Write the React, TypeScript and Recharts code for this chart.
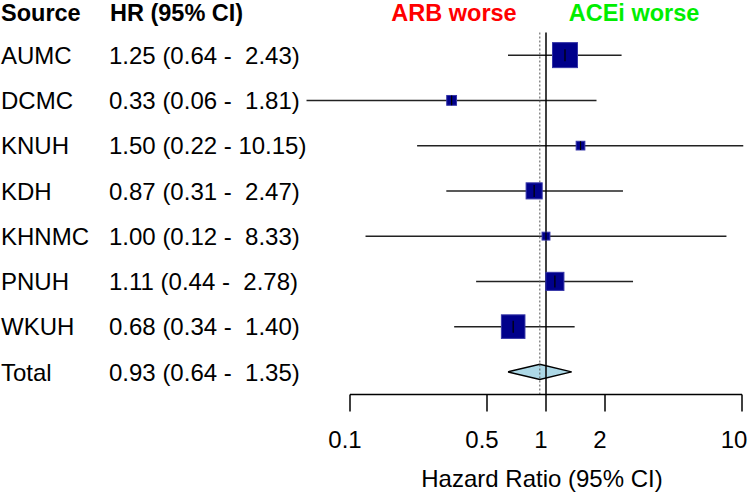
import {
  ComposedChart,
  XAxis,
  YAxis,
  Scatter,
  Area,
  ReferenceLine,
  Label,
} from 'recharts'

// study rows, last one is the pooled estimate
const sources = ['AUMC', 'DCMC', 'KNUH', 'KDH', 'KHNMC', 'PNUH', 'WKUH', 'Total']
const hr = [1.25, 0.33, 1.5, 0.87, 1.0, 1.11, 0.68, 0.93]
const lower = [0.64, 0.06, 0.22, 0.31, 0.12, 0.44, 0.34, 0.64]
const upper = [2.43, 1.81, 10.15, 2.47, 8.33, 2.78, 1.4, 1.35]
const xTicks = [0.1, 0.5, 1, 2, 10]

const FONT = '"Liberation Sans", Arial, sans-serif'
const MAX_BOX = 25
const DIAMOND_HALF = 0.17
const TOTAL = sources.length - 1

const fmt = (i: number) =>
  `${hr[i].toFixed(2)} (${lower[i].toFixed(2)} - ${upper[i].toFixed(2).padStart(5, ' ')})`

// box size ~ precision (1 / log-CI width), largest box = MAX_BOX
const precision = sources.slice(0, TOTAL).map((_, i) => 1 / Math.log(upper[i] / lower[i]))
const maxPrec = Math.max(...precision)

const studies = sources.slice(0, TOTAL).map((name, i) => ({
  name,
  x: hr[i],
  y: i,
  size: (precision[i] / maxPrec) * MAX_BOX,
}))

const diamond = [
  { x: lower[TOTAL], band: [TOTAL, TOTAL] },
  { x: hr[TOTAL], band: [TOTAL - DIAMOND_HALF, TOTAL + DIAMOND_HALF] },
  { x: upper[TOTAL], band: [TOTAL, TOTAL] },
]

const StudyBox = (props: any) => {
  const { cx, cy, payload } = props
  const s = payload.size
  const t = Math.min(12, s)
  return (
    <g>
      <rect x={cx - s / 2} y={cy - s / 2} width={s} height={s} fill="#00008B" stroke="#3535a8" strokeWidth={1} />
      <line x1={cx} x2={cx} y1={cy - t / 2} y2={cy + t / 2} stroke="#000" strokeWidth={1.2} />
    </g>
  )
}

const RowTick = (props: any) => {
  const { y, payload } = props
  const i = payload.value as number
  return (
    <g>
      <text x={1} y={y} dy="0.36em" fontSize={24} fill="#000" fontFamily={FONT}>
        {sources[i]}
      </text>
      <text x={109} y={y} dy="0.36em" fontSize={24} fill="#000" fontFamily={FONT} style={{ whiteSpace: 'pre' }}>
        {fmt(i)}
      </text>
    </g>
  )
}

const header: React.CSSProperties = {
  position: 'absolute',
  top: 0,
  fontSize: 23.5,
  fontWeight: 'bold',
  lineHeight: 'normal',
  whiteSpace: 'nowrap',
}

export default function App() {
  return (
    <div style={{ position: 'absolute', left: 0, top: 0, width: 751, height: 503, fontFamily: FONT, background: '#fff' }}>
      <div style={{ ...header, left: 1 }}>Source</div>
      <div style={{ ...header, left: 110 }}>HR (95% CI)</div>
      <div style={{ ...header, left: 454, transform: 'translateX(-50%)', color: '#ff0000' }}>ARB worse</div>
      <div style={{ ...header, left: 634, transform: 'translateX(-50%)', color: '#00ee00' }}>ACEi worse</div>

      <ComposedChart
        width={751}
        height={503}
        data={diamond}
        margin={{ top: 32.5, right: 9, bottom: 0, left: 0 }}
      >
        <XAxis
          dataKey="x"
          type="number"
          scale="log"
          domain={[0.1, 10]}
          allowDataOverflow
          ticks={xTicks}
          tickFormatter={(v: number) => String(v)}
          height={108.5}
          tickSize={17}
          tickMargin={19.4}
          stroke="#000"
          strokeWidth={1.5}
          tick={{ fill: '#000', fontSize: 24, fontFamily: FONT, dx: -5 }}
        >
          <Label
            value="Hazard Ratio (95% CI)"
            position="insideBottom"
            offset={16.3}
            dx={-4}
            fill="#000"
            fontSize={24}
            fontFamily={FONT}
          />
        </XAxis>
        <YAxis
          dataKey="y"
          type="number"
          domain={[-0.5, 7.5]}
          ticks={sources.map((_, i) => i)}
          reversed
          allowDataOverflow
          width={350}
          axisLine={false}
          tickLine={false}
          tick={<RowTick />}
        />

        {/* confidence intervals */}
        {studies.map((s, i) => (
          <ReferenceLine
            key={s.name}
            segment={[
              { x: lower[i], y: i },
              { x: upper[i], y: i },
            ]}
            stroke="#222"
            strokeWidth={1.5}
            ifOverflow="visible"
          />
        ))}

        {/* no effect + pooled estimate */}
        <ReferenceLine x={1} stroke="#000" strokeWidth={1.5} />
        <ReferenceLine x={hr[TOTAL]} stroke="#555" strokeWidth={1} strokeDasharray="2 2" />

        <Area
          type="linear"
          dataKey="band"
          fill="#ADD8E6"
          fillOpacity={1}
          stroke="#000"
          strokeWidth={1.5}
          dot={false}
          activeDot={false}
          isAnimationActive={false}
        />
        <Scatter data={studies} shape={<StudyBox />} isAnimationActive={false} />
      </ComposedChart>
    </div>
  )
}
